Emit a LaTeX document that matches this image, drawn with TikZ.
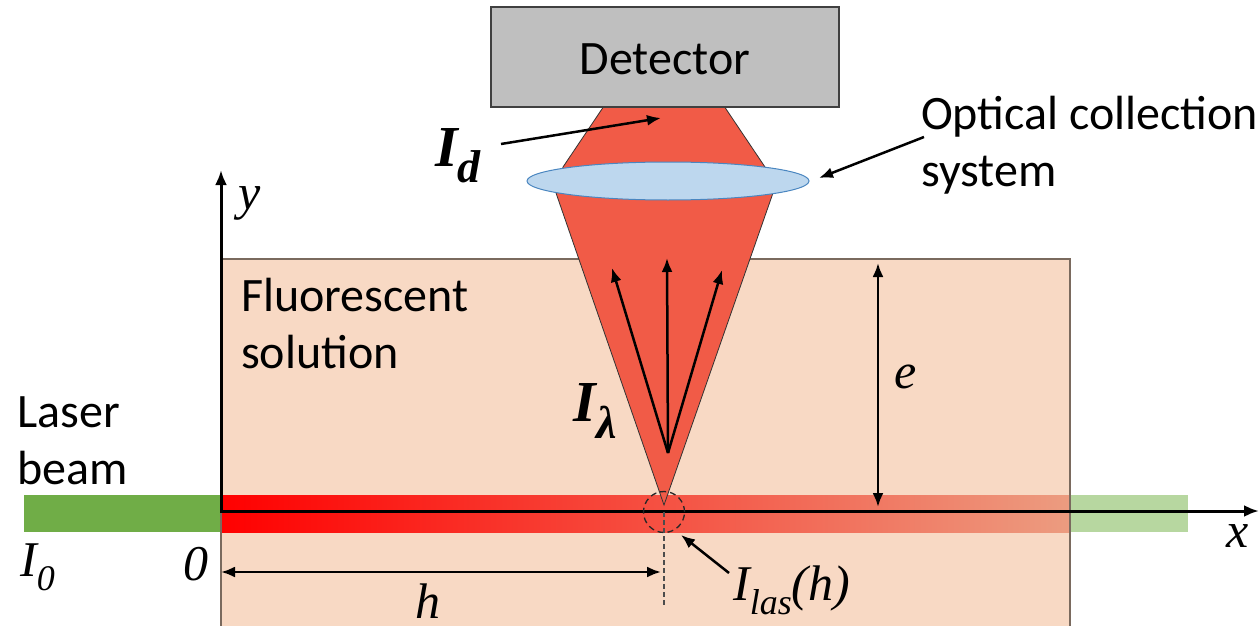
\documentclass[tikz,border=0pt]{standalone}
\usepackage{fontspec}
\setmainfont{Carlito}
\newfontfamily\symbfont{Liberation Serif}
\usetikzlibrary{positioning,arrows.meta,calc,shapes.geometric}
\definecolor{solpeach}{HTML}{F8D9C4}
\definecolor{solborder}{HTML}{7A6A5E}
\definecolor{beamred}{HTML}{F15B47}
\definecolor{spotred}{HTML}{F25A46}
\definecolor{fadered}{HTML}{EC9C80}
\definecolor{lensblue}{HTML}{BDD7EE}
\definecolor{lensedge}{HTML}{4A86C0}
\definecolor{lasgreen}{HTML}{70AD47}
\definecolor{lasfade}{HTML}{B7D7A0}
\definecolor{detgray}{HTML}{BFBFBF}
\tikzset{
  lbl/.style={inner sep=0pt, font=\fontsize{48}{57}\selectfont, align=left},
  sym/.style={inner sep=0pt, font=\symbfont\itshape\fontsize{50}{56}\selectfont},
  bigsym/.style={inner sep=0pt, font=\symbfont\bfseries\itshape\fontsize{58}{60}\selectfont},
  axisline/.style={line width=3pt, -{Latex[length=15pt,width=12pt]}},
  pointer/.style={line width=2.5pt, -{Latex[length=14pt,width=11pt]}},
  span/.style={line width=2.5pt, {Latex[length=14pt,width=11pt]}-{Latex[length=14pt,width=11pt]}},
}
\newcommand{\lowtext}[1]{\raisebox{-0.28em}{\fontsize{36}{38}\selectfont #1}}
\begin{document}
\begin{tikzpicture}[x=1pt,y=-1pt]
    \useasboundingbox (0,0) rectangle (1259,626);
    % solution and laser beam
    \fill[solpeach] (221,259) rectangle (1070,626);
    \fill[lasgreen] (24,495) rectangle (221,532);
    \fill[lasfade] (1070,495) rectangle (1188,532);
    \shade[left color=red, middle color=spotred, right color=fadered] (221,495) rectangle (1070,532);
    \draw[solborder, line width=1.2pt] (221,626) -- (221,259) -- (1070,259) -- (1070,626);
    % collected light
    \draw[fill=beamred, draw=black!80, line width=0.8pt] (604,106) -- (724,106) -- (765,167) -- (773,193) -- (664,505) -- (556,193) -- (563,167) -- cycle;
    \node[draw=lensedge, fill=lensblue, ellipse, minimum width=282pt, minimum height=38pt, inner sep=0pt, line width=1pt] (lens) at (668,181) {};
    \node[draw=black!75, fill=detgray, line width=1.2pt, minimum width=348pt, minimum height=100pt, inner sep=0pt] (detector) at (665,57) {};
    \node[lbl, anchor=center] (detlabel) at (665,59) {Detector};
    % axes
    \coordinate (origin) at (221,511);
    \coordinate (xend) at (1259,511);
    \coordinate (yend) at (221,170);
    \draw[axisline] (origin) -- (xend);
    \draw[axisline] ($(origin)+(0,1.5)$) -- (yend);
    \node[sym] (ylabel) at (250,203) {y};
    \node[sym] (xlabel) at (1238,536) {x};
    \node[sym] (zero) at (196,564) {0};
    \node[sym, anchor=west] (inlet) at (20,567) {I\lowtext{0}};
    % emission arrows
    \coordinate (src) at (668,453);
    \coordinate (fanl) at (612,268);
    \coordinate (fanm) at (667,258);
    \coordinate (fanr) at (722,270);
    \draw[pointer] (src) -- (fanl);
    \draw[pointer] (src) -- (fanm);
    \draw[pointer] (src) -- (fanr);
    % spot and dimensions
    \coordinate (spot) at (664,512);
    \coordinate (spotfoot) at (664,605);
    \node[draw=black!85, dash pattern=on 6pt off 4pt, circle, minimum size=41pt, inner sep=0pt, line width=1.3pt] (spotring) at (spot) {};
    \draw[black!70, dash pattern=on 5pt off 3pt, line width=1.3pt] (spot) -- (spotfoot);
    \coordinate (hleft) at (221,572);
    \coordinate (hright) at (661,572);
    \draw[span] (hleft) -- (hright);
    \node[sym] (hlabel) at (428,601) {h};
    \coordinate (etop) at (878,263);
    \coordinate (ebottom) at (878,507);
    \draw[span] (etop) -- (ebottom);
    \node[sym] (elabel) at (906,377) {e};
    % labels
    \node[lbl, anchor=west] (optics) at (921,145) {Optical collection\\system};
    \node[lbl, anchor=west] (fluo) at (241,324) {Fluorescent\\solution};
    \node[lbl, anchor=west] (laser) at (17,441) {Laser\\beam};
    \node[bigsym] (idlabel) at (458,156) {I\lowtext{\fontsize{46}{48}\selectfont d}};
    \node[bigsym] (illabel) at (595,411) {I\lowtext{\fontsize{46}{48}\selectfont λ}};
    \node[sym, anchor=west] (ilas) at (733,590) {I\lowtext{las}(h)};
    \coordinate (idtail) at (501,144);
    \coordinate (idtip) at (661,118);
    \draw[pointer] (idtail) -- (idtip);
    \coordinate (optail) at (924,137);
    \coordinate (optip) at (819,178);
    \draw[pointer] (optail) -- (optip);
    \coordinate (lastail) at (729,573);
    \coordinate (lastip) at (681,535);
    \draw[pointer] (lastail) -- (lastip);
  \end{tikzpicture}
\end{document}
